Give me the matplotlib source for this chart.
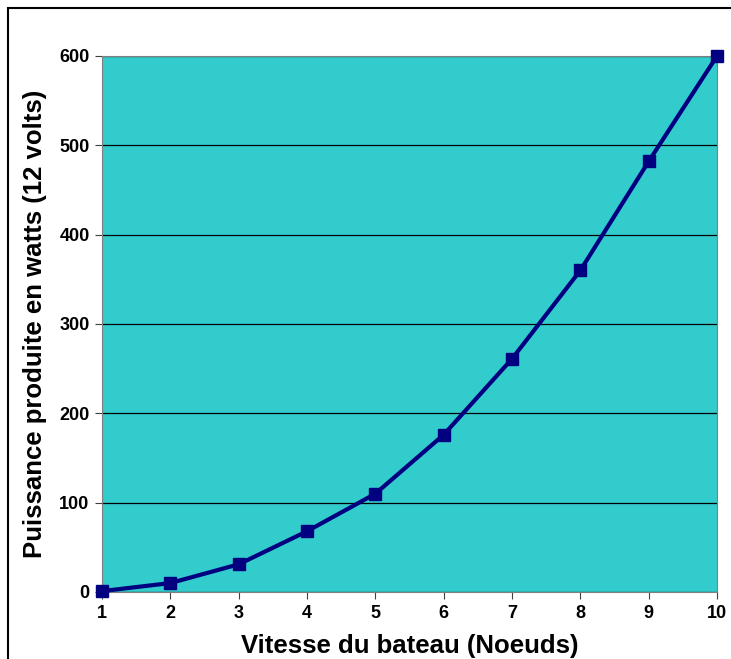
import matplotlib.pyplot as plt
from matplotlib.patches import Rectangle

# === Data ===
vitesse = [1, 2, 3, 4, 5, 6, 7, 8, 9, 10]
puissance = [1, 10, 31, 68, 110, 176, 261, 360, 482, 600]
y_ticks = [0, 100, 200, 300, 400, 500, 600]

plt.rcParams['font.family'] = ['Liberation Sans', 'DejaVu Sans']

fig = plt.figure(figsize=(7.31, 6.59), dpi=100)
ax = fig.add_axes([102 / 731, 1 - 592 / 659, 615 / 731, 536 / 659])
ax.set_facecolor('#33CCCC')

ax.plot(vitesse, puissance, color='#000080', linewidth=3, marker='s',
        markersize=8, zorder=3, clip_on=False)

ax.set_xlim(1, 10)
ax.set_ylim(0, 600)
ax.set_xticks(vitesse)
ax.set_yticks(y_ticks)
ax.yaxis.grid(True, color='black', linewidth=0.9)
ax.set_axisbelow(True)

for s in ax.spines.values():
    s.set_color('#808080')
ax.tick_params(direction='out', length=5, color='#404040', labelsize=13, pad=4)
for lab in ax.get_xticklabels() + ax.get_yticklabels():
    lab.set_fontweight('bold')

ax.set_xlabel('Vitesse du bateau (Noeuds)', fontsize=18.5, fontweight='bold', labelpad=9)
ax.set_ylabel('Puissance produite en watts (12 volts)', fontsize=18.5, fontweight='bold', labelpad=9)

# Outer border of the chart area
fig.patches.append(Rectangle((8 / 731, -0.05), 1.2, 1 - 8 / 659 + 0.05,
                             transform=fig.transFigure, fill=False,
                             edgecolor='black', linewidth=1.5))

fig.savefig('out.png', dpi=100)
